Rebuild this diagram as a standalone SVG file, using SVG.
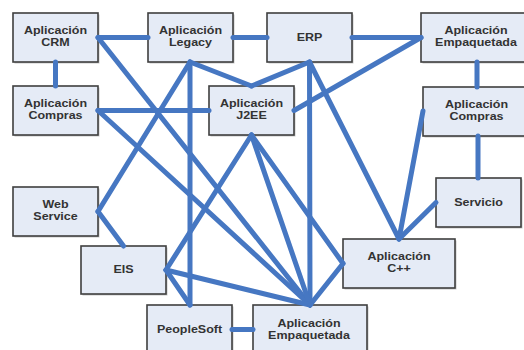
<svg xmlns="http://www.w3.org/2000/svg" width="524" height="350" viewBox="0 0 524 350">
<style>
.box{fill:#e5ebf6;stroke:#3f3f3f;stroke-width:1.6}
.sh{fill:#9a9a9a;opacity:0.55}
.t{font-family:"Liberation Sans",Arial,sans-serif;font-weight:bold;font-size:10px;fill:#333;text-anchor:middle}
.c{stroke:#4677c2;stroke-width:5;stroke-linecap:round;fill:none}
</style>
<rect width="524" height="350" fill="#ffffff"/>
<g id="crm"><rect class="sh" x="14.5" y="14.5" width="85" height="49"/><rect class="box" x="13" y="13" width="85" height="49"/><text class="t" transform="translate(55.5,34) scale(1.25,1)">Aplicación</text><text class="t" transform="translate(55.5,46) scale(1.25,1)">CRM</text></g>
<g id="legacy"><rect class="sh" x="149.5" y="14.5" width="85" height="49"/><rect class="box" x="148" y="13" width="85" height="49"/><text class="t" transform="translate(190.5,34) scale(1.25,1)">Aplicación</text><text class="t" transform="translate(190.5,46) scale(1.25,1)">Legacy</text></g>
<g id="erp"><rect class="sh" x="268.5" y="14.5" width="85" height="49"/><rect class="box" x="267" y="13" width="85" height="49"/><text class="t" transform="translate(309.5,41) scale(1.25,1)">ERP</text></g>
<g id="emp-top"><rect class="sh" x="422.5" y="14.5" width="110" height="49"/><rect class="box" x="421" y="13" width="110" height="49"/><text class="t" transform="translate(476,34) scale(1.25,1)">Aplicación</text><text class="t" transform="translate(476,46) scale(1.25,1)">Empaquetada</text></g>
<g id="compras-left"><rect class="sh" x="14.5" y="87.5" width="85" height="49"/><rect class="box" x="13" y="86" width="85" height="49"/><text class="t" transform="translate(55.5,107) scale(1.25,1)">Aplicación</text><text class="t" transform="translate(55.5,119) scale(1.25,1)">Compras</text></g>
<g id="j2ee"><rect class="sh" x="210.5" y="87.5" width="85" height="49"/><rect class="box" x="209" y="86" width="85" height="49"/><text class="t" transform="translate(251.5,107) scale(1.25,1)">Aplicación</text><text class="t" transform="translate(251.5,119) scale(1.25,1)">J2EE</text></g>
<g id="compras-right"><rect class="sh" x="424.5" y="88.5" width="110" height="49"/><rect class="box" x="423" y="87" width="110" height="49"/><text class="t" transform="translate(476.5,108) scale(1.25,1)">Aplicación</text><text class="t" transform="translate(476.5,120) scale(1.25,1)">Compras</text></g>
<g id="web-service"><rect class="sh" x="14.5" y="188.5" width="85" height="49"/><rect class="box" x="13" y="187" width="85" height="49"/><text class="t" transform="translate(55.5,208) scale(1.25,1)">Web</text><text class="t" transform="translate(55.5,220) scale(1.25,1)">Service</text></g>
<g id="servicio"><rect class="sh" x="437.5" y="179.5" width="85" height="49"/><rect class="box" x="436" y="178" width="85" height="49"/><text class="t" transform="translate(478.5,206) scale(1.25,1)">Servicio</text></g>
<g id="eis"><rect class="sh" x="82.5" y="247.5" width="85" height="48"/><rect class="box" x="81" y="246" width="85" height="48"/><text class="t" transform="translate(123.5,273) scale(1.25,1)">EIS</text></g>
<g id="cpp"><rect class="sh" x="344.5" y="240.5" width="112" height="49"/><rect class="box" x="343" y="239" width="112" height="49"/><text class="t" transform="translate(399,260) scale(1.25,1)">Aplicación</text><text class="t" transform="translate(399,272) scale(1.25,1)">C++</text></g>
<g id="peoplesoft"><rect class="sh" x="148.5" y="306.5" width="85" height="49"/><rect class="box" x="147" y="305" width="85" height="49"/><text class="t" transform="translate(189.5,333) scale(1.25,1)">PeopleSoft</text></g>
<g id="emp-bottom"><rect class="sh" x="254.5" y="306.5" width="114" height="49"/><rect class="box" x="253" y="305" width="114" height="49"/><text class="t" transform="translate(309,327) scale(1.25,1)">Aplicación</text><text class="t" transform="translate(309,339) scale(1.25,1)">Empaquetada</text></g>
<g id="connectors">
<line class="c" x1="98" y1="37.5" x2="148" y2="37.5"/>
<line class="c" x1="233" y1="37.5" x2="267" y2="37.5"/>
<line class="c" x1="352" y1="37.5" x2="421" y2="37.5"/>
<line class="c" x1="55.5" y1="62" x2="55.5" y2="86"/>
<line class="c" x1="98" y1="110.5" x2="209" y2="110.5"/>
<line class="c" x1="477" y1="62" x2="477" y2="87"/>
<line class="c" x1="478" y1="136" x2="478" y2="178"/>
<line class="c" x1="436" y1="202.5" x2="399" y2="239"/>
<line class="c" x1="98" y1="211.5" x2="123.5" y2="246"/>
<line class="c" x1="232" y1="329.5" x2="253" y2="329.5"/>
<line class="c" x1="98" y1="37.5" x2="310" y2="305"/>
<line class="c" x1="98" y1="110.5" x2="310" y2="305"/>
<line class="c" x1="190" y1="62" x2="190" y2="305"/>
<line class="c" x1="190" y1="62" x2="98" y2="211.5"/>
<line class="c" x1="190" y1="62" x2="251.5" y2="86"/>
<line class="c" x1="309.5" y1="62" x2="251.5" y2="86"/>
<line class="c" x1="309.5" y1="62" x2="310" y2="305"/>
<line class="c" x1="309.5" y1="62" x2="399" y2="239"/>
<line class="c" x1="294" y1="110.5" x2="421" y2="37.5"/>
<line class="c" x1="423" y1="111" x2="399" y2="239"/>
<line class="c" x1="251.5" y1="135" x2="166" y2="270"/>
<line class="c" x1="251.5" y1="135" x2="310" y2="305"/>
<line class="c" x1="251.5" y1="135" x2="343" y2="263.5"/>
<line class="c" x1="166" y1="270" x2="190" y2="305"/>
<line class="c" x1="166" y1="270" x2="310" y2="305"/>
<line class="c" x1="343" y1="263.5" x2="310" y2="305"/>
</g>
</svg>
